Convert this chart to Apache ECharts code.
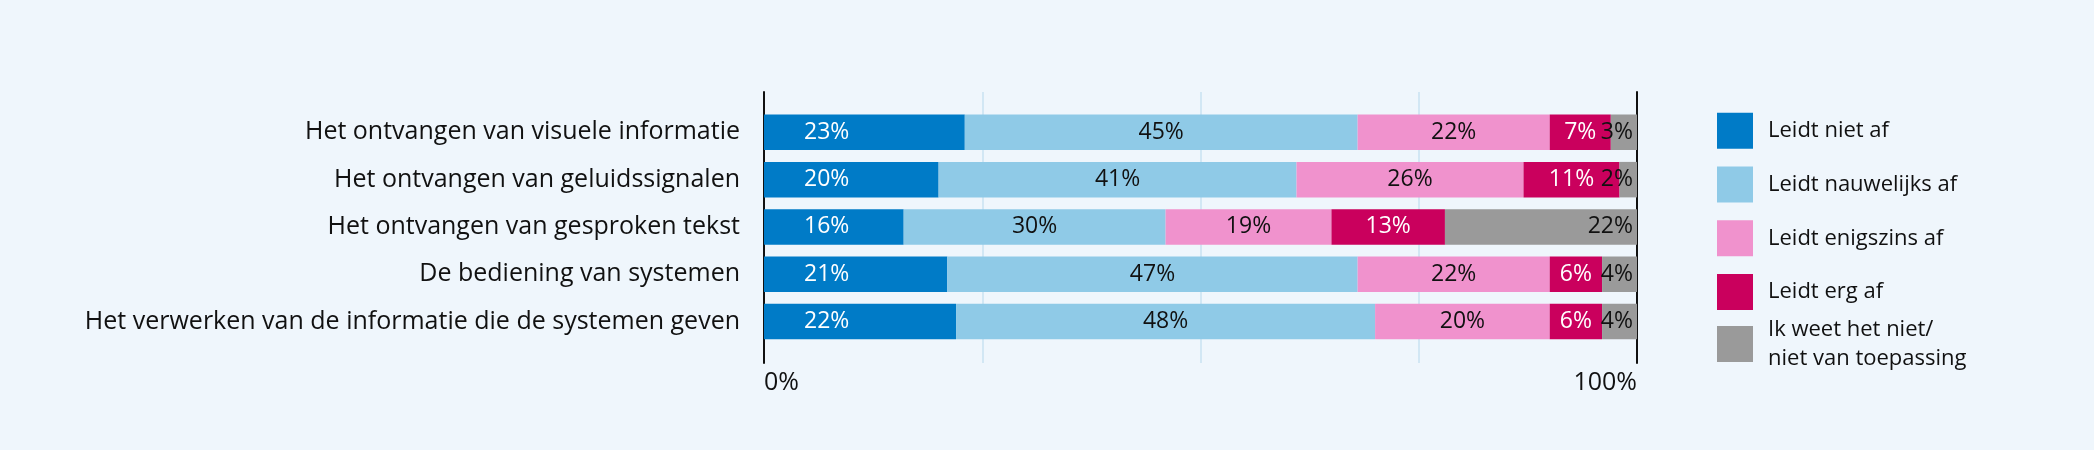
<!DOCTYPE html>
<html>
<head>
<meta charset="utf-8">
<script src="https://cdn.jsdelivr.net/npm/echarts@6/dist/echarts.min.js"></script>
<style>
  html, body { margin: 0; padding: 0; background: #EFF6FC; }
  #chart { width: 2094px; height: 450px; }
</style>
</head>
<body>
<div id="chart"></div>
<script>
// ---- data ----
const categories = [
  'Het ontvangen van visuele informatie',
  'Het ontvangen van geluidssignalen',
  'Het ontvangen van gesproken tekst',
  'De bediening van systemen',
  'Het verwerken van de informatie die de systemen geven'
];
const seriesNames = [
  'Leidt niet af',
  'Leidt nauwelijks af',
  'Leidt enigszins af',
  'Leidt erg af',
  'Ik weet het niet/\nniet van toepassing'
];
const leidtNietAf       = [23, 20, 16, 21, 22];
const leidtNauwelijksAf = [45, 41, 30, 47, 48];
const leidtEnigszinsAf  = [22, 26, 19, 22, 20];
const leidtErgAf        = [7, 11, 13, 6, 6];
const weetNiet          = [3, 2, 22, 4, 4];
const axisTickLabels = { 0: '0%', 100: '100%' };

// ---- style ----
const FONT = 'Open Sans';
const colors = ['#007BC7', '#8FCAE7', '#F092CD', '#CA005D', '#9A9A9A'];
const labelColors = ['#FFFFFF', '#111111', '#111111', '#FFFFFF', '#111111'];
const values = [leidtNietAf, leidtNauwelijksAf, leidtEnigszinsAf, leidtErgAf, weetNiet];

const chart = echarts.init(document.getElementById('chart'), null, { renderer: 'canvas' });

const series = values.map((vals, i) => {
  let label = {
    show: true,
    color: labelColors[i],
    fontFamily: FONT,
    fontSize: 23,
    formatter: '{c}%',
    position: 'inside'
  };
  if (i === 0) { label.position = 'insideLeft'; label.distance = 40; }
  if (i === 4) { label.position = 'insideRight'; label.distance = 4; }
  return {
    name: seriesNames[i],
    type: 'bar',
    stack: 'total',
    xAxisIndex: 0,
    yAxisIndex: 0,
    barCategoryGap: '25%',
    data: vals,
    itemStyle: { color: colors[i] },
    label: label,
    emphasis: { disabled: true },
    z: 3
  };
});

const option = {
  backgroundColor: '#EFF6FC',
  animation: false,
  textStyle: { fontFamily: FONT },
  grid: [
    { left: 764, right: 457, top: 108.7, height: 236.5, containLabel: false },
    { left: 764, right: 457, top: 92, bottom: 87, containLabel: false }
  ],
  xAxis: [
    { gridIndex: 0, type: 'value', min: 0, max: 100, show: false },
    {
      gridIndex: 1, type: 'value', min: 0, max: 100, interval: 25,
      axisLine: { show: false },
      axisTick: { show: false },
      splitLine: { show: true, showMinLine: false, showMaxLine: false, lineStyle: { color: '#D2E7F4', width: 2 } },
      axisLabel: {
        show: true, margin: 7, fontFamily: FONT, fontSize: 25, color: '#111111',
        alignMinLabel: 'left', alignMaxLabel: 'right',
        formatter: v => axisTickLabels[v] || ''
      }
    }
  ],
  yAxis: [
    {
      gridIndex: 0, type: 'category', data: categories, inverse: true,
      axisLine: { show: false }, axisTick: { show: false },
      axisLabel: { margin: 24, fontFamily: FONT, fontSize: 25, color: '#111111' }
    },
    {
      gridIndex: 1, type: 'value', position: 'left',
      axisLine: { show: true, onZero: false, lineStyle: { color: '#111111', width: 2 } },
      axisTick: { show: false }, axisLabel: { show: false }, splitLine: { show: false }
    },
    {
      gridIndex: 1, type: 'value', position: 'right',
      axisLine: { show: true, onZero: false, lineStyle: { color: '#111111', width: 2 } },
      axisTick: { show: false }, axisLabel: { show: false }, splitLine: { show: false }
    }
  ],
  legend: [
    {
      data: seriesNames.slice(0, 4),
      orient: 'vertical',
      left: 1717, top: 112.7,
      padding: 0,
      itemWidth: 36, itemHeight: 36, itemGap: 17.8,
      selectedMode: false,
      icon: 'rect',
      textStyle: { fontFamily: FONT, fontSize: 22, color: '#111111', padding: [0, 0, 0, 10] }
    },
    {
      data: [{ name: seriesNames[4], textStyle: { padding: [34, 0, 0, 10], lineHeight: 29 } }],
      orient: 'vertical',
      left: 1717, top: 298,
      padding: 0,
      itemWidth: 36, itemHeight: 36,
      selectedMode: false,
      icon: 'rect',
      textStyle: { fontFamily: FONT, fontSize: 22, color: '#111111', lineHeight: 29 }
    }
  ],
  series: series
};

chart.setOption(option);
</script>
</body>
</html>
